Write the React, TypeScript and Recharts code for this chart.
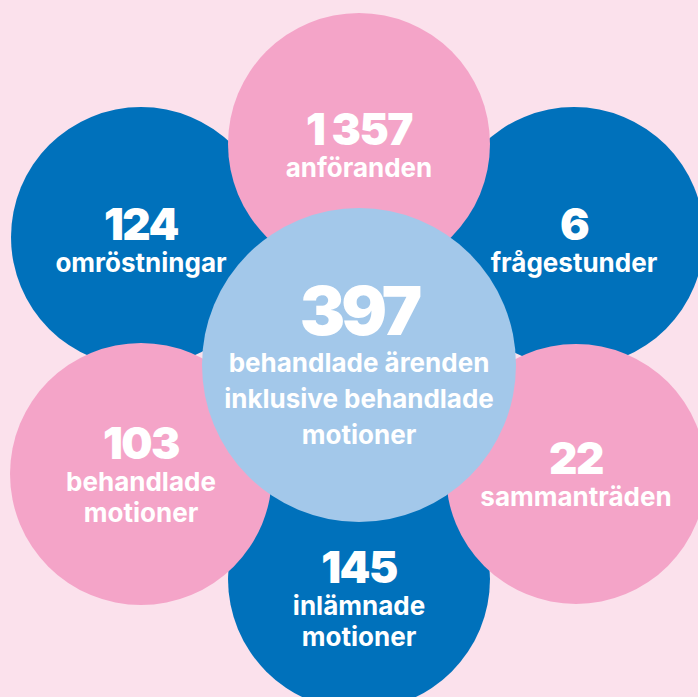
import { Scatter, ScatterChart, XAxis, YAxis } from "recharts";

const W = 698;
const H = 697;

// figures shown in the flower, petal order: top, top-right, bottom-right, bottom, bottom-left, top-left
const petalValues = [1357, 6, 22, 145, 103, 124];
const petalLabels = [
  ["anföranden"],
  ["frågestunder"],
  ["sammanträden"],
  ["inlämnade", "motioner"],
  ["behandlade", "motioner"],
  ["omröstningar"],
];
const centerValue = 397;
const centerLabel = ["behandlade ärenden", "inklusive behandlade", "motioner"];

// flower layout in chart units (1 unit = 1 px)
const petalX = [359, 574, 576, 359, 141, 141];
const petalY = [144, 237, 474, 579, 474, 237];
const petalR = [131, 130, 130, 131, 131, 130];
const petalNumDy = [1, 3, 0, 4, -15, 3];
const petalTone = ["pink", "blue", "pink", "blue", "pink", "blue"];

const BG = "#fbe1ec";
const PINK = "#f4a4c8";
const BLUE = "#0071bb";
const LIGHT = "#a3c8ea";

const fmt = (v: number) => String(v).replace(/\B(?=(\d{3})+(?!\d))/g, " ");

const petals = petalValues.map((v, i) => ({
  x: petalX[i],
  y: petalY[i],
  r: petalR[i],
  value: v,
  lines: petalLabels[i],
  numDy: petalNumDy[i],
  numSize: 44,
  numSpacing: -1.5,
  gap: 31,
  tone: petalTone[i],
}));
const blueData = petals.filter((p) => p.tone === "blue");
const pinkData = petals.filter((p) => p.tone === "pink");
const centerData = [
  {
    x: 359,
    y: 365,
    r: 157,
    value: centerValue,
    lines: centerLabel,
    numDy: -30,
    numSize: 68,
    numSpacing: -4,
    gap: 36,
  },
];

function Bubble(props: any) {
  const { cx, cy, payload, fill } = props;
  const numY = cy + payload.numDy;
  return (
    <g>
      <circle cx={cx} cy={cy} r={payload.r} fill={fill} />
      <text
        x={cx}
        y={numY}
        textAnchor="middle"
        fill="#fff"
        fontFamily="Inter, sans-serif"
        fontWeight={900}
        fontSize={payload.numSize}
        letterSpacing={payload.numSpacing}
        style={{ whiteSpace: "pre" }}
      >
        {fmt(payload.value)}
      </text>
      {payload.lines.map((line: string, i: number) => (
        <text
          key={line + i}
          x={cx}
          y={numY + payload.gap + 1 + i * payload.gap}
          textAnchor="middle"
          fill="#fff"
          fontFamily="Inter, sans-serif"
          fontWeight={700}
          fontSize={26}
        >
          {line}
        </text>
      ))}
    </g>
  );
}

export default function App() {
  return (
    <div style={{ position: "absolute", left: 0, top: 0, width: W, height: H, background: BG }}>
      <ScatterChart width={W} height={H} margin={{ top: 0, right: 0, bottom: 0, left: 0 }}>
        <XAxis type="number" dataKey="x" domain={[0, W]} hide />
        <YAxis type="number" dataKey="y" domain={[0, H]} reversed hide />
        <Scatter data={blueData} fill={BLUE} shape={Bubble} isAnimationActive={false} />
        <Scatter data={pinkData} fill={PINK} shape={Bubble} isAnimationActive={false} />
        <Scatter data={centerData} fill={LIGHT} shape={Bubble} isAnimationActive={false} />
      </ScatterChart>
    </div>
  );
}
